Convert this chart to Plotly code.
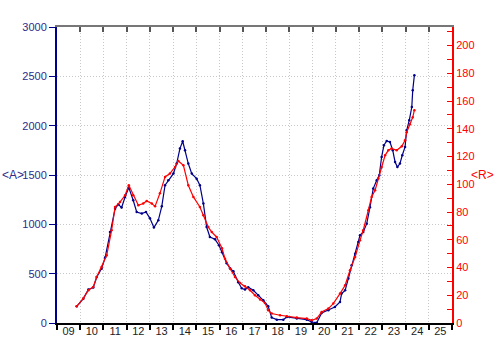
import plotly.graph_objects as go

# Blue series: <A> (left axis)
a_years = [2009.85, 2010.13, 2010.35, 2010.56, 2010.71, 2010.92, 2011.07, 2011.28, 2011.50, 2011.64,
           2011.78, 2011.93, 2012.09, 2012.28, 2012.43, 2012.65, 2012.83, 2013.00, 2013.17, 2013.36,
           2013.51, 2013.65, 2013.79, 2014.01, 2014.15, 2014.29, 2014.41, 2014.51, 2014.65, 2014.80,
           2015.01, 2015.15, 2015.30, 2015.44, 2015.58, 2015.80, 2015.97, 2016.10, 2016.30, 2016.45,
           2016.59, 2016.80, 2016.95, 2017.09, 2017.23, 2017.45, 2017.66, 2017.88, 2018.09, 2018.24,
           2018.46, 2018.74, 2018.89, 2019.32, 2019.75, 2019.96, 2020.18, 2020.39, 2020.68, 2020.96,
           2021.18, 2021.25, 2021.40, 2021.54, 2021.68, 2021.83, 2021.97, 2022.04, 2022.18, 2022.33,
           2022.47, 2022.61, 2022.76, 2022.87, 2022.97, 2023.07, 2023.19, 2023.33, 2023.45, 2023.55,
           2023.65, 2023.76, 2023.86, 2023.98, 2024.05, 2024.16, 2024.27, 2024.31, 2024.38]
a_values = [169, 247, 339, 359, 466, 551, 663, 922, 1159, 1203,
            1170, 1277, 1372, 1244, 1125, 1109, 1125, 1061, 967, 1041,
            1183, 1396, 1446, 1514, 1616, 1768, 1842, 1750, 1616, 1514,
            1463, 1396, 1210, 973, 872, 848, 788, 717, 605, 554,
            524, 412, 352, 339, 362, 331, 281, 230, 169, 55,
            34, 34, 61, 45, 34, 10, 3, 101, 129, 162,
            213, 298, 331, 450, 585, 703, 821, 889, 922, 1007,
            1173, 1362, 1446, 1497, 1682, 1801, 1845, 1834, 1750, 1632,
            1581, 1616, 1700, 1784, 1953, 2054, 2189, 2358, 2510]

# Red series: <R> (right axis)
r_years = [2009.85, 2010.13, 2010.35, 2010.56, 2010.71, 2010.92, 2011.14, 2011.35, 2011.50, 2011.71,
           2011.93, 2012.09, 2012.28, 2012.50, 2012.71, 2012.86, 2013.08, 2013.22, 2013.43, 2013.65,
           2013.86, 2014.08, 2014.22, 2014.44, 2014.65, 2014.87, 2015.15, 2015.30, 2015.51, 2015.66,
           2015.87, 2016.10, 2016.23, 2016.45, 2016.66, 2016.88, 2017.09, 2017.31, 2017.52, 2017.74,
           2017.95, 2018.09, 2018.24, 2018.60, 2018.89, 2019.32, 2019.75, 2019.96, 2020.18, 2020.39,
           2020.68, 2020.89, 2021.18, 2021.40, 2021.61, 2021.83, 2022.04, 2022.18, 2022.40, 2022.54,
           2022.69, 2022.83, 2022.97, 2023.12, 2023.26, 2023.40, 2023.62, 2023.84, 2023.98, 2024.05,
           2024.19, 2024.31, 2024.38]
r_values = [12.0, 17.6, 23.6, 26.0, 33.2, 40.4, 48.8, 66.8, 83.6, 87.2,
            92.1, 99.3, 92.1, 84.9, 86.1, 88.0, 86.1, 84.1, 93.5, 105.3,
            107.7, 112.5, 116.8, 113.7, 99.3, 90.9, 83.6, 77.7, 69.2, 65.6,
            62.0, 53.9, 46.4, 39.2, 33.2, 28.8, 26.5, 23.6, 20.0, 16.9,
            14.4, 9.2, 6.8, 5.6, 4.8, 3.9, 3.2, 1.9, 3.2, 7.9,
            10.4, 14.0, 21.2, 27.2, 38.0, 47.6, 59.6, 66.9, 81.3, 90.9,
            95.7, 104.1, 112.5, 120.9, 124.5, 125.8, 124.5, 127.4, 131.7, 137.5,
            143.3, 148.3, 153.4]

year_ticks = list(range(2009, 2027))
year_labels = ["09", "10", "11", "12", "13", "14", "15", "16", "17",
               "18", "19", "20", "21", "22", "23", "24", "25"]
a_ticks = [0, 500, 1000, 1500, 2000, 2500, 3000]
r_ticks = list(range(0, 220, 10))
r_labels = [str(v) if v % 20 == 0 else "" for v in r_ticks]

NAVY = "#00008B"
NAVY_TXT = "#2c2c8c"
RED = "#FF0000"
FONT = "Liberation Sans, Arial, sans-serif"
GRID = "#c8c8c8"
DOTS = "1px,2px"

fig = go.Figure()
fig.add_trace(go.Scatter(x=a_years, y=a_values, mode="lines+markers",
                         line=dict(color=NAVY, width=1.2),
                         marker=dict(color=NAVY, size=2.5), xaxis="x", yaxis="y",
                         showlegend=False))
fig.add_trace(go.Scatter(x=r_years, y=r_values, mode="lines+markers",
                         line=dict(color=RED, width=1.2),
                         marker=dict(color=RED, size=2.5), xaxis="x", yaxis="y2",
                         showlegend=False))
# invisible traces to activate extra axes
fig.add_trace(go.Scatter(x=[2009], y=[0], mode="markers", marker=dict(opacity=0),
                         xaxis="x2", yaxis="y", showlegend=False, hoverinfo="skip"))
fig.add_trace(go.Scatter(x=[2009], y=[0], mode="markers", marker=dict(opacity=0),
                         xaxis="x3", yaxis="y", showlegend=False, hoverinfo="skip"))

xr = [2009, 2026]
fig.update_layout(
    width=500, height=360,
    margin=dict(l=57, r=48, t=27, b=37),
    paper_bgcolor="white", plot_bgcolor="white",
    font=dict(family=FONT, size=11),
    xaxis=dict(range=xr, tickvals=year_ticks, showticklabels=False,
               ticks="outside", ticklen=5, tickwidth=1.5, tickcolor="black",
               showline=True, linecolor="black", linewidth=2,
               showgrid=True, gridcolor=GRID, griddash=DOTS, gridwidth=1,
               zeroline=False),
    xaxis2=dict(range=xr, overlaying="x", side="bottom", anchor="y",
                tickvals=[y + 0.5 for y in year_ticks[:-1]], ticktext=year_labels,
                ticks="", showline=False, showgrid=False, zeroline=False,
                tickfont=dict(color="#222222", size=11, family=FONT)),
    xaxis3=dict(range=xr, overlaying="x", side="top", anchor="y",
                tickvals=year_ticks, showticklabels=False,
                ticks="inside", ticklen=5, tickwidth=1.5, tickcolor="#555555",
                showline=True, linecolor="#777777", linewidth=2,
                showgrid=False, zeroline=False),
    yaxis=dict(range=[0, 3000], tickvals=a_ticks,
               ticks="outside", ticklen=6, tickwidth=1, tickcolor=NAVY,
               showline=True, linecolor=NAVY, linewidth=2,
               showgrid=True, gridcolor=GRID, griddash=DOTS,
               zeroline=False, tickfont=dict(color=NAVY_TXT, size=11, family=FONT)),
    yaxis2=dict(range=[0, 213.4], overlaying="y", side="right", anchor="x",
                tickvals=r_ticks, ticktext=r_labels,
                ticks="inside", ticklen=5, tickwidth=1, tickcolor=RED,
                showline=True, linecolor=RED, linewidth=2,
                showgrid=False, zeroline=False,
                tickfont=dict(color=RED, size=11, family=FONT)),
    annotations=[
        dict(text="&lt;A&gt;", xref="paper", yref="paper", x=-0.112, y=0.5,
             xanchor="center", yanchor="middle", showarrow=False,
             font=dict(color=NAVY_TXT, size=12, family=FONT)),
        dict(text="&lt;R&gt;", xref="paper", yref="paper", x=1.078, y=0.5,
             xanchor="center", yanchor="middle", showarrow=False,
             font=dict(color=RED, size=12, family=FONT)),
    ],
)

fig.write_html("out.html", config={"displayModeBar": False},
               post_script="document.body.style.margin='0px';document.body.style.padding='0px';")
